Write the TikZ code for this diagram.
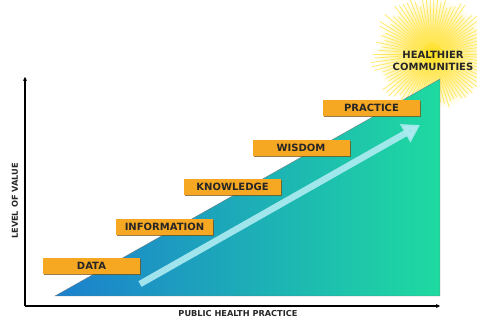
\documentclass[tikz,border=0pt]{standalone}
\usepackage{fontspec}
\setsansfont{DejaVu Sans}
\usepackage{xcolor}
\usepackage{tikz}
\usetikzlibrary{arrows.meta,positioning,shadows}
\definecolor{stepgold}{RGB}{247,168,34}
\definecolor{stepshade}{RGB}{120,80,20}
\definecolor{valueblue}{RGB}{28,128,206}
\definecolor{valueteal}{RGB}{30,218,160}
\definecolor{valuelight}{RGB}{175,236,242}
\definecolor{sunyellow}{RGB}{255,222,20}
\tikzset{
  stepbox/.style={fill=stepgold,minimum width=97pt,minimum height=16pt,inner sep=0pt,
    font=\sffamily\bfseries\fontsize{10}{10}\selectfont,text=black!85,
    drop shadow={shadow xshift=1.2pt,shadow yshift=-1.5pt,fill=stepshade,opacity=.75}},
  axisline/.style={line width=1.3pt,-{Stealth[length=4pt,width=4pt]}},
  axislabel/.style={font=\sffamily\bfseries\fontsize{8.2}{9}\selectfont,text=black!85},
  valuearrow/.style={draw=valuelight,line width=6.5pt,opacity=.9,
    -{Triangle[length=17pt,width=20pt]}},
  sunray/.style={draw=sunyellow!70,line width=.7pt,line cap=round}
}

\begin{document}
\begin{tikzpicture}[x=1pt,y=-1pt]
  \useasboundingbox (0,0) rectangle (477,320);
  \coordinate (sun) at (432,54);
  \shade[inner color=sunyellow,outer color=white] (sun) circle (56);
  \pgfmathsetseed{7}
  \foreach \a in {0,4,...,356}{
    \pgfmathsetmacro\raylen{36+14*rnd}
    \draw[sunray] (sun) ++(\a:12) -- ++(\a:\raylen);
  }
  \coordinate (origin) at (25,306);
  \coordinate (ytop) at (25,77);
  \coordinate (xend) at (440,306);
  \shade[left color=valueblue,right color=valueteal,draw=black!55,line width=.3pt]
    (55,296) -- (440,296) -- (440,79) -- cycle;
  \draw[axisline] (origin) -- (ytop);
  \draw[axisline] (origin) -- (xend);
  \node[stepbox] (data) at (91.5,266) {DATA};
  \node[stepbox] (information) at (164.5,227) {INFORMATION};
  \node[stepbox] (knowledge) at (232.5,187) {KNOWLEDGE};
  \node[stepbox] (wisdom) at (301,148) {WISDOM};
  \node[stepbox] (practice) at (371.5,108) {PRACTICE};
  \coordinate (valuestart) at (140,284);
  \coordinate (valueend) at (420,125);
  \draw[valuearrow] (valuestart) -- (valueend);
  \node[font=\sffamily\bfseries\fontsize{10}{12.5}\selectfont,text=black!85,align=center]
    (healthier) at (433,61) {HEALTHIER\\COMMUNITIES};
  \node[axislabel,rotate=90] (levelvalue) at (15,201) {LEVEL OF VALUE};
  \node[axislabel] (publichealth) at (238,314) {PUBLIC HEALTH PRACTICE};
\end{tikzpicture}
\end{document}
